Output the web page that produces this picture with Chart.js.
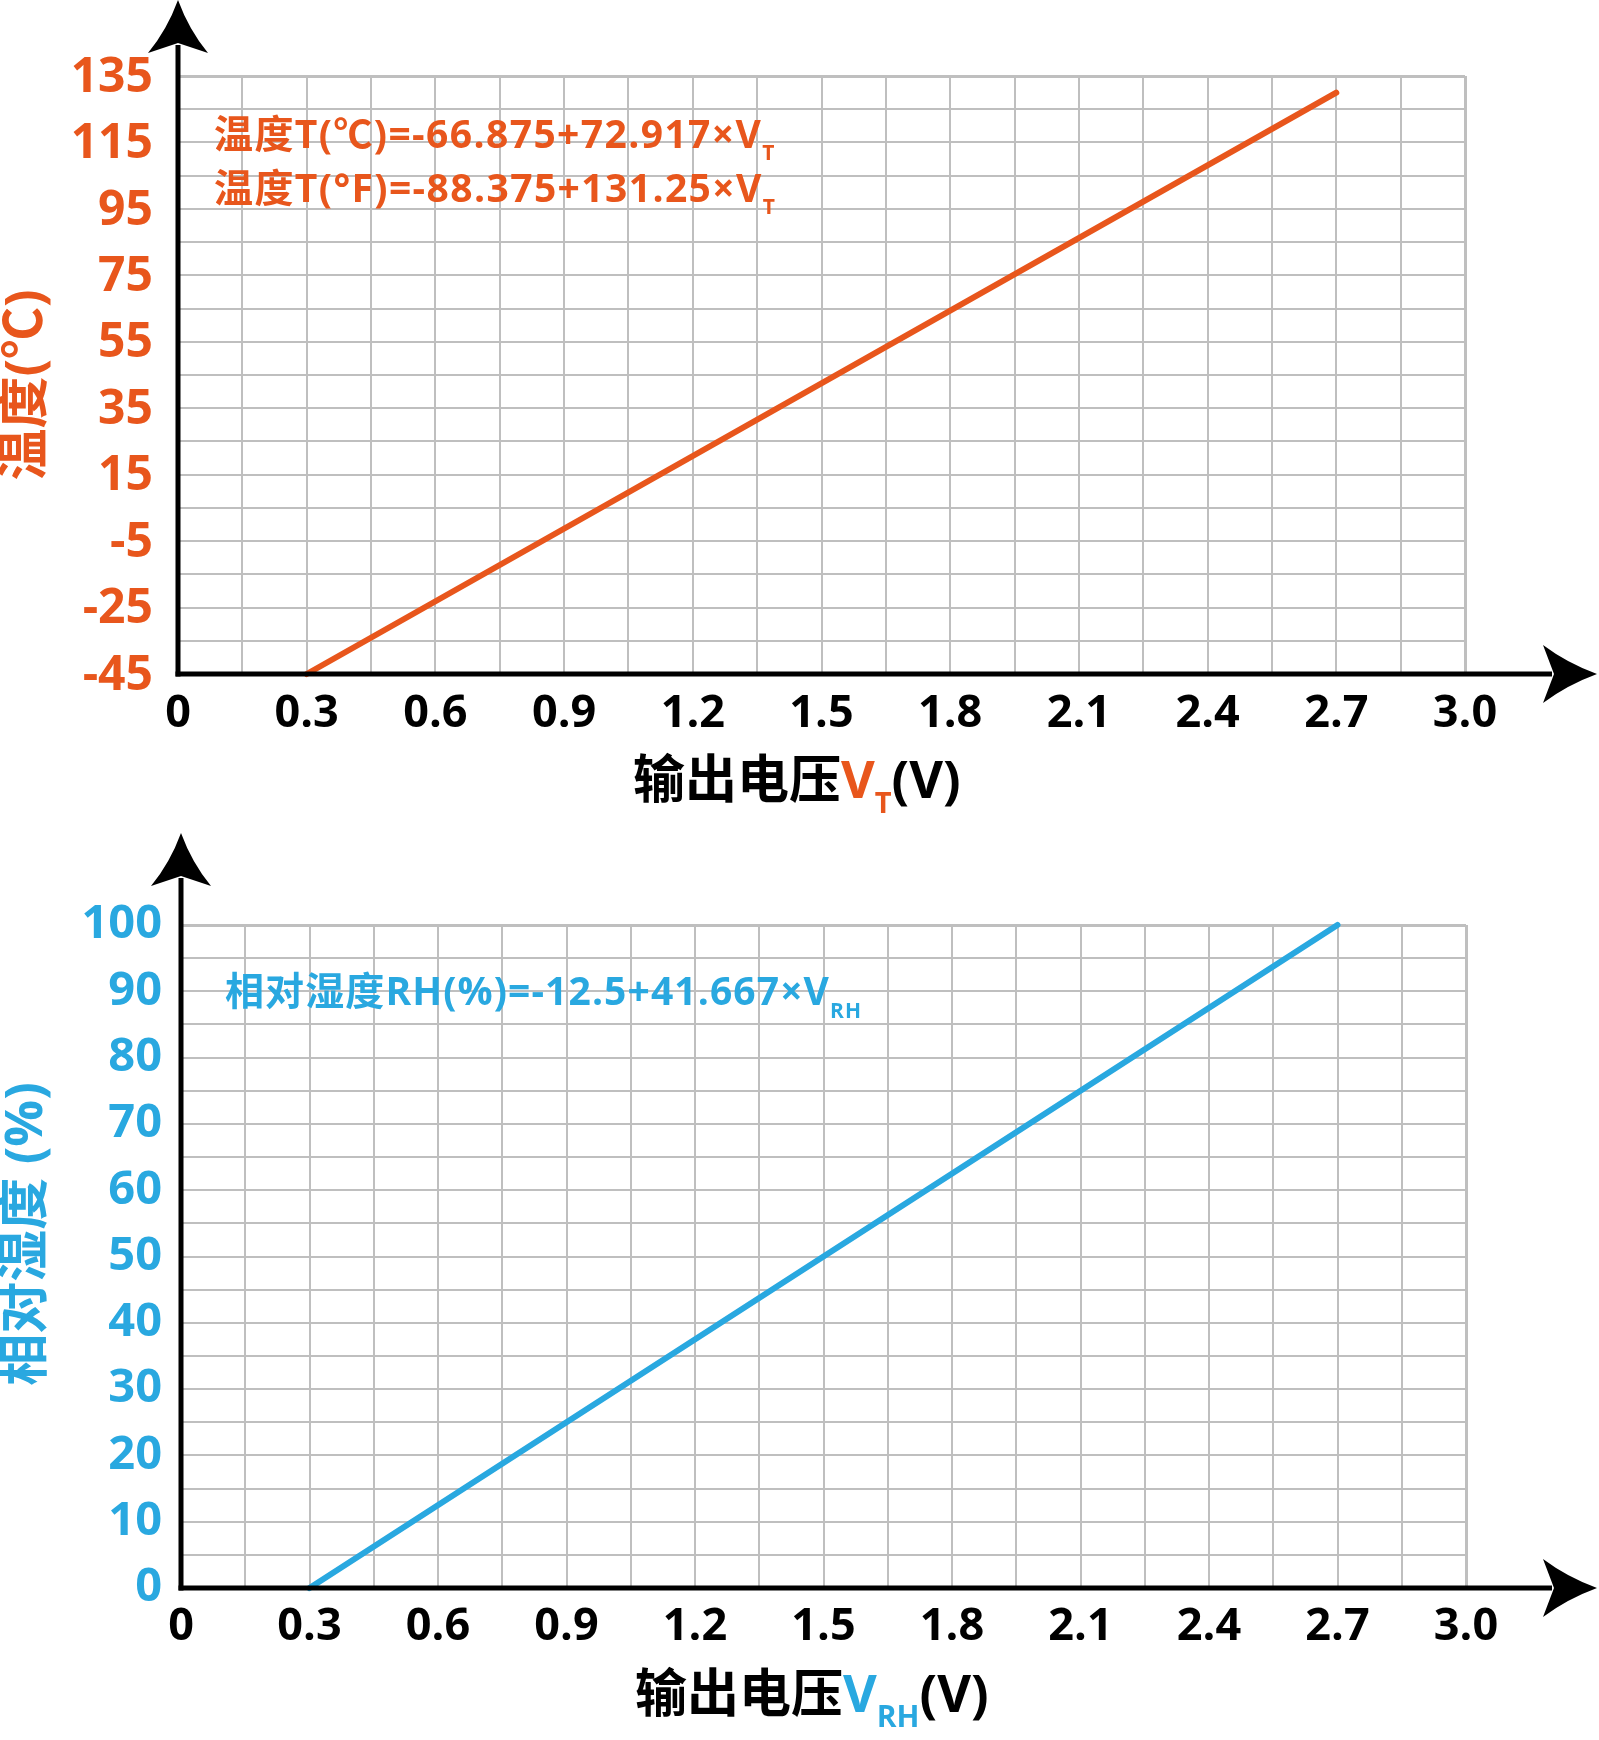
<!DOCTYPE html>
<html><head><meta charset="utf-8">
<script src="https://cdn.jsdelivr.net/npm/chart.js@4"></script>
<style>
html,body{margin:0;padding:0;background:#fff;}
#wrap{position:relative;width:1599px;height:1740px;background:#fff;}
canvas{position:absolute;left:0;}
</style></head><body>
<div id="wrap">
<canvas id="c1" width="1599" height="820" style="top:0px"></canvas>
<canvas id="c2" width="1599" height="920" style="top:820px"></canvas>
</div>
<script>
// ---- data ----
const voltT = [0.3, 2.7];
const tempC = [-45, 130];
const voltRH = [0.3, 2.7];
const humidity = [0, 100];

const xGridValues = [0,0.15,0.3,0.45,0.6,0.75,0.9,1.05,1.2,1.35,1.5,1.65,1.8,1.95,2.1,2.25,2.4,2.55,2.7,2.85,3.0];
const xTickValues = [0,0.3,0.6,0.9,1.2,1.5,1.8,2.1,2.4,2.7,3.0];
const xTickLabels = ['0','0.3','0.6','0.9','1.2','1.5','1.8','2.1','2.4','2.7','3.0'];

const tempGridValues = [-45,-35,-25,-15,-5,5,15,25,35,45,55,65,75,85,95,105,115,125,135];
const tempTickValues = [-45,-25,-5,15,35,55,75,95,115,135];
const tempTickLabels = ['-45','-25','-5','15','35','55','75','95','115','135'];

const rhGridValues = [0,5,10,15,20,25,30,35,40,45,50,55,60,65,70,75,80,85,90,95,100];
const rhTickValues = [0,10,20,30,40,50,60,70,80,90,100];
const rhTickLabels = ['0','10','20','30','40','50','60','70','80','90','100'];

const eqTempC = '温度T(℃)=-66.875+72.917×V';
const eqTempF = '温度T(°F)=-88.375+131.25×V';
const eqRH = '相对湿度RH(%)=-12.5+41.667×V';
const xTitleMain = '输出电压';
const yTitleT = '温度(℃)';
const yTitleRH = '相对湿度 (%)';

// ---- styles ----
const ORANGE = '#E8561C';
const BLUE = '#29A8E0';
const GRID = '#BFBFBF';
const FAM = '"Open Sans","Noto Sans CJK SC",sans-serif';

function labelFor(vals, labels) {
  return (v) => {
    const i = vals.findIndex(t => Math.abs(t - v) < 1e-6);
    return i >= 0 ? labels[i] : '';
  };
}

function drawRich(ctx, x, y, segs, spacing) {
  ctx.save();
  ctx.textBaseline = 'alphabetic';
  ctx.textAlign = 'left';
  if ('letterSpacing' in ctx) ctx.letterSpacing = (spacing || 0) + 'px';
  let cx = x;
  for (const s of segs) {
    ctx.font = 'bold ' + s.size + 'px ' + FAM;
    ctx.fillStyle = s.color;
    ctx.fillText(s.t, cx, y + (s.dy || 0));
    cx += ctx.measureText(s.t).width;
  }
  ctx.restore();
}

function drawRotated(ctx, x, y, text, size, color) {
  ctx.save();
  ctx.translate(x, y);
  ctx.rotate(-Math.PI / 2);
  ctx.font = 'bold ' + size + 'px ' + FAM;
  ctx.fillStyle = color;
  ctx.textAlign = 'center';
  ctx.textBaseline = 'middle';
  ctx.fillText(text, 0, 0);
  ctx.restore();
}

function drawAxes(chart, yTip, xTip) {
  const ctx = chart.ctx;
  const L = chart.chartArea.left, B = chart.chartArea.bottom;
  ctx.save();
  ctx.strokeStyle = '#000';
  ctx.fillStyle = '#000';
  ctx.lineWidth = 5;
  ctx.beginPath(); ctx.moveTo(L, B + 2.5); ctx.lineTo(L, yTip + 45); ctx.stroke();
  ctx.beginPath(); ctx.moveTo(L - 2.5, B); ctx.lineTo(xTip - 45, B); ctx.stroke();
  // up arrow
  ctx.beginPath();
  ctx.moveTo(L, yTip);
  ctx.quadraticCurveTo(L - 11, yTip + 30, L - 30, yTip + 53);
  ctx.lineTo(L, yTip + 43);
  ctx.lineTo(L + 30, yTip + 53);
  ctx.quadraticCurveTo(L + 11, yTip + 30, L, yTip);
  ctx.fill();
  // right arrow
  ctx.beginPath();
  ctx.moveTo(xTip, B);
  ctx.quadraticCurveTo(xTip - 30, B - 11, xTip - 54, B - 29);
  ctx.lineTo(xTip - 43, B);
  ctx.lineTo(xTip - 54, B + 29);
  ctx.quadraticCurveTo(xTip - 30, B + 11, xTip, B);
  ctx.fill();
  ctx.restore();
}

function makeChart(id, cfg) {
  const edgeX = (c) => (c.tick && Math.abs(c.tick.value - 3.0) < 1e-6) ? 3 : 2;
  const edgeY = (c) => (c.tick && Math.abs(c.tick.value - cfg.yMax) < 1e-6) ? 3 : 2;
  return new Chart(document.getElementById(id), {
    type: 'line',
    data: {
      datasets: [{
        data: cfg.xs.map((x, i) => ({ x: x, y: cfg.ys[i] })),
        borderColor: cfg.color,
        borderWidth: 6,
        borderCapStyle: 'round',
        pointRadius: 0,
        tension: 0,
        clip: false
      }]
    },
    options: {
      responsive: false,
      animation: false,
      events: [],
      layout: { padding: { top: cfg.padTop, right: cfg.padRight, left: 0, bottom: 0 } },
      plugins: { legend: { display: false }, tooltip: { enabled: false }, title: { display: false } },
      scales: {
        x: {
          type: 'linear', min: 0, max: 3.0,
          afterBuildTicks: (s) => { s.ticks = xGridValues.map(v => ({ value: v })); },
          afterFit: (s) => { s.height = cfg.xHeight; },
          grid: { color: GRID, lineWidth: edgeX, drawTicks: false },
          border: { display: false },
          ticks: {
            autoSkip: false, maxRotation: 0, minRotation: 0, padding: cfg.xPad,
            color: '#000', font: { family: FAM, size: 45, weight: 'bold' },
            callback: labelFor(xTickValues, xTickLabels)
          }
        },
        y: {
          type: 'linear', min: cfg.yMin, max: cfg.yMax,
          afterBuildTicks: (s) => { s.ticks = cfg.yGrid.map(v => ({ value: v })); },
          afterFit: (s) => { s.width = cfg.yWidth; },
          grid: { color: GRID, lineWidth: edgeY, drawTicks: false },
          border: { display: false },
          ticks: {
            autoSkip: false, padding: cfg.yPad, labelOffset: cfg.yLabelOffset,
            color: cfg.color, font: { family: FAM, size: cfg.ySize, weight: 'bold' },
            callback: labelFor(cfg.yTickVals, cfg.yTickLabels)
          }
        }
      }
    },
    plugins: [{
      id: 'deco',
      afterDraw: (chart) => {
        drawAxes(chart, cfg.yTip, 1597);
        cfg.text(chart.ctx);
      }
    }]
  });
}

makeChart('c1', {
  xs: voltT, ys: tempC, color: ORANGE,
  yMin: -45, yMax: 135, yGrid: tempGridValues, yTickVals: tempTickValues, yTickLabels: tempTickLabels,
  padTop: 76, padRight: 134, xHeight: 146, yWidth: 178, xPad: 13, yPad: 25, ySize: 48, yTip: 0, yLabelOffset: 2,
  text: (ctx) => {
    drawRich(ctx, 214, 148, [{ t: eqTempC, size: 39, color: ORANGE }, { t: 'T', size: 21, color: ORANGE, dy: 12 }], 1.4);
    drawRich(ctx, 214, 202, [{ t: eqTempF, size: 39, color: ORANGE }, { t: 'T', size: 21, color: ORANGE, dy: 12 }], 1.4);
    drawRich(ctx, 633, 798, [
      { t: xTitleMain, size: 52, color: '#000' },
      { t: 'V', size: 52, color: ORANGE },
      { t: 'T', size: 29, color: ORANGE, dy: 15 },
      { t: '(V)', size: 52, color: '#000' }
    ], 0);
    drawRotated(ctx, 27, 385, yTitleT, 52, ORANGE);
  }
});

makeChart('c2', {
  xs: voltRH, ys: humidity, color: BLUE,
  yMin: 0, yMax: 100, yGrid: rhGridValues, yTickVals: rhTickValues, yTickLabels: rhTickLabels,
  padTop: 105, padRight: 133, xHeight: 152, yWidth: 181, xPad: 12, yPad: 19, ySize: 47, yTip: 13, yLabelOffset: 0,
  text: (ctx) => {
    drawRich(ctx, 225, 185, [{ t: eqRH, size: 39, color: BLUE }, { t: 'RH', size: 21, color: BLUE, dy: 13 }], 1.1);
    drawRich(ctx, 635, 892, [
      { t: xTitleMain, size: 52, color: '#000' },
      { t: 'V', size: 52, color: BLUE },
      { t: 'RH', size: 30, color: BLUE, dy: 15 },
      { t: '(V)', size: 52, color: '#000' }
    ], 0);
    drawRotated(ctx, 27, 414, yTitleRH, 52, BLUE);
  }
});
</script>
</body></html>
